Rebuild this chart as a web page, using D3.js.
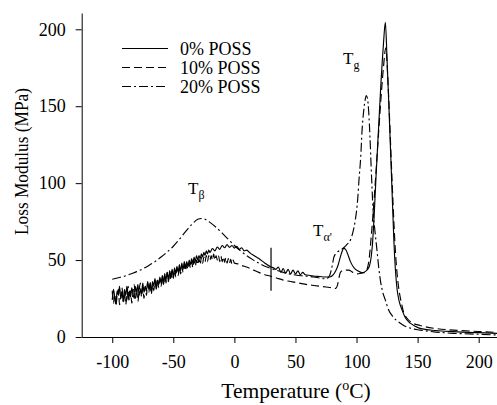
<!DOCTYPE html>
<html>
<head>
<meta charset="utf-8">
<script src="https://cdn.jsdelivr.net/npm/d3@7"></script>
<style>
  body { margin: 0; background: #fff; }
  svg text { font-family: "Liberation Serif", "Times New Roman", serif; fill: #000; }
</style>
</head>
<body>
<div id="chart"></div>
<script>
// series names shown in the legend
const seriesNames = ["0% POSS", "10% POSS", "20% POSS"]

// 0% POSS, [temperature C, loss modulus MPa], noisy at low temperature
const poss0 = [
  [-100,24],[-99,31],[-98,26],[-97,22],[-96,30],[-95,27],[-94,33],[-93,25],[-92,29],[-91,23],
  [-90,31],[-89,27],[-88,33],[-87,24],[-86,30],[-85,26],[-84,32],[-83,28],[-82,25],[-81,33],
  [-80,29],[-79,34],[-78,27],[-77,31],[-76,28],[-75,35],[-74,29],[-73,33],[-72,30],[-71,36],
  [-70,31],[-69,35],[-68,29],[-67,36],[-66,33],[-65,38],[-64,31],[-63,37],[-62,34],[-61,39],
  [-60,35],[-59,40],[-58,34],[-57,41],[-56,37],[-55,42],[-54,36],[-53,43],[-52,39],[-51,44],
  [-50,39],[-49,45],[-48,41],[-47,46],[-46,42],[-45,47],[-44,43],[-43,48],[-42,44],[-41,49],
  [-40,45],[-39,49],[-38,46],[-37,50],[-36,47],[-35,51],[-34,48],[-33,52],[-32,49],[-31,53],
  [-30,50],[-29,53],[-28,51],[-27,54],[-26,52],[-25,55],[-24,53],[-23,56],[-22,54],[-21,56.5],
  [-20,55],[-18,57.5],[-16,56],[-14,58.5],[-12,57],[-10,59.5],[-8,58],[-6,60],[-4,58.3],[-2,59.5],
  [0,57.8],[2,59],[4,57],[6,58],[8,56],[10,56.5],[13,54.5],[16,53],[20,51],[25,48],
  [30,45.5],[32,45],[34,44],[36,45.5],[38,42],[40,44.5],[42,41.5],[44,44],[46,41],[48,43.5],
  [50,41],[52,43],[54,40.5],[56,42],[58,40.5],[62,40],[66,39.5],[70,39.3],[74,39],[78,39],
  [81,40.5],[83,43],[85,47],[87.5,54],[89.5,57.6],[91,57],[92.5,54.5],[95,49],[98,45],[101,43],
  [104.5,41.8],[107,42.5],[109,44],[110.5,46],[112,52],[113,60],[114.5,80],[116,105],[118,135],[120,165],
  [122,190],[123.6,204.5],[125,180],[126.5,150],[128,118],[129.3,90],[130.5,64],[131.8,44],[133.2,31],[135,23],
  [137.3,17.5],[140,12.5],[144,9],[148,7],[152,5.6],[165,4.2],[179,3.5],[200,2.8],[215,2.4]
]

// 10% POSS
const poss10 = [
  [-100,30],[-99,22],[-98,28],[-97,20],[-96,27],[-95,31],[-94,21],[-93,26],[-92,32],[-91,23],
  [-90,29],[-89,21],[-88,27],[-87,33],[-86,24],[-85,30],[-84,22],[-83,29],[-82,34],[-81,25],
  [-80,31],[-79,23],[-78,30],[-77,35],[-76,26],[-75,32],[-74,25],[-73,33],[-72,27],[-71,35],
  [-70,29],[-69,36],[-68,28],[-67,34],[-66,30],[-65,37],[-64,31],[-63,38],[-62,32],[-61,38],
  [-60,33],[-59,40],[-58,34],[-57,41],[-56,35],[-55,42],[-54,36],[-53,43],[-52,37],[-51,43],
  [-50,38],[-49,44],[-48,39],[-47,45],[-46,40],[-45,46],[-44,41],[-43,46],[-42,42],[-41,47],
  [-40,43],[-39,47],[-38,44],[-37,48],[-36,45],[-35,49],[-34,45],[-33,50],[-32,46],[-31,50],
  [-30,47],[-29,51],[-28,47],[-27,52],[-26,48],[-25,52],[-24,49],[-23,53],[-22,49],[-21,53],
  [-20,50],[-19,53],[-18,50],[-17,54],[-16,50],[-15,53],[-14,50],[-13,53],[-12,49],[-11,52.5],
  [-10,49],[-9,52],[-8,48.5],[-7,51.5],[-6,48],[-5,51],[-4,48],[-3,50.5],[-2,47.5],[-1,50],
  [0,48],[3,47.5],[6,46.5],[10,45.5],[15,43.8],[20,42],[25,40.5],[30,39.5],[35,38.2],[40,37],
  [45,36.2],[50,35.5],[55,34.7],[60,34],[65,33.5],[70,33],[75,32.5],[80,32],[83,31.6],[84.5,34],
  [85.5,38],[86.8,42],[90,43.5],[93.6,43.5],[97,42],[100.5,41],[104,41.5],[107,42],[109,45],[110.5,52],
  [112,65],[114,85],[116,108],[118,132],[120,155],[122,175],[124,188],[125.5,170],[127,143],[128.5,113],
  [130,85],[131.5,60],[133,43],[134.5,32],[136.5,23],[138.6,16],[141,12.5],[145,9.5],[152,7.5],[165,5.5],
  [179,4.5],[200,3.6],[215,3]
]

// 20% POSS
const poss20 = [
  [-100,37.5],[-95,38.5],[-90,39.5],[-85,41],[-80,42.5],[-75,44.3],[-70,46.5],[-65,49],[-60,52],[-55,55.3],
  [-50,59],[-45,63.5],[-40,68.5],[-35,73],[-30,76.5],[-27,77],[-24,76.5],[-20,74.5],[-15,71.3],[-10,67.5],
  [-5,63.5],[0,59.5],[5,56],[10,53],[15,50.3],[20,48],[25,46],[30,44.5],[35,43.2],[40,42],
  [45,41],[50,40.3],[55,39.8],[60,39.5],[65,39],[70,38.3],[75,37.8],[78,40],[80,46],[81.5,52],
  [84,55],[87,56.5],[89.5,58],[92,60],[95,63],[97,68],[99,76],[101,90],[102,102],[103.5,118],
  [104.5,134],[106,148],[107,154],[108,157],[109,155],[110,146],[111,130],[112,110],[113.6,82],[115.2,68],
  [116.8,56],[118.2,45],[119.5,37],[121.5,29],[123.6,24],[126,18],[130,13],[134,10],[138,7.8],[145,5.5],
  [152,4.5],[165,3.2],[179,2.4],[200,1.8],[215,1.3]
]

// vertical marker drawn at 30 C
const markerTemp = 30
const markerRange = [30, 58]

const xTicks = [-100, -50, 0, 50, 100, 150, 200]
const yTicks = [0, 50, 100, 150, 200]

const W = 497, H = 405

const svg = d3.select("#chart").append("svg")
  .attr("width", W)
  .attr("height", H)

const x = d3.scaleLinear().domain([-125, 215]).range([81.7, 497])
const y = d3.scaleLinear().domain([0, 210.6]).range([337, 13])

// axes (plain hyphen for negatives, like the original)
svg.append("g")
  .attr("transform", "translate(0," + y(0) + ")")
  .call(d3.axisBottom(x).tickValues(xTicks).tickFormat(d => String(d))
    .tickSize(6).tickSizeOuter(0).tickPadding(12))
svg.append("g")
  .attr("transform", "translate(" + x(-125) + ",0)")
  .call(d3.axisLeft(y).tickValues(yTicks).tickFormat(d => String(d))
    .tickSize(6).tickSizeOuter(0).tickPadding(10))

svg.selectAll(".domain, .tick line").attr("stroke", "#000").attr("stroke-width", 1)
svg.selectAll(".tick text")
  .style("font-family", "'Liberation Serif', serif")
  .style("font-size", "18px")
  .attr("fill", "#000")

// axis titles
const xt = svg.append("text")
  .attr("x", 296)
  .attr("y", 398)
  .attr("text-anchor", "middle")
  .style("font-size", "21.5px")
xt.append("tspan").text("Temperature (")
xt.append("tspan").text("o").style("font-size", "14px").attr("dy", -8)
xt.append("tspan").text("C)").attr("dy", 8)

svg.append("text")
  .attr("transform", "translate(28,161.5) rotate(-90)")
  .attr("text-anchor", "middle")
  .attr("textLength", 147)
  .attr("lengthAdjust", "spacingAndGlyphs")
  .style("font-size", "19.5px")
  .text("Loss Modulus (MPa)")

// curves
const line = d3.line()
  .x(d => x(d[0]))
  .y(d => y(d[1]))
  .curve(d3.curveMonotoneX)

const dashes = [null, "8,4", "9,3,2,3"]
const allSeries = [poss0, poss10, poss20]

allSeries.forEach((s, i) => {
  svg.append("path")
    .datum(s)
    .attr("d", line)
    .attr("fill", "none")
    .attr("stroke", "#000")
    .attr("stroke-width", 1.15)
    .attr("stroke-dasharray", dashes[i])
})

svg.append("line")
  .attr("x1", x(markerTemp)).attr("x2", x(markerTemp))
  .attr("y1", y(markerRange[0])).attr("y2", y(markerRange[1]))
  .attr("stroke", "#000")
  .attr("stroke-width", 1.2)

// legend
seriesNames.forEach((name, i) => {
  const ly = 48.5 + i * 19
  svg.append("line")
    .attr("x1", 122).attr("x2", 168)
    .attr("y1", ly).attr("y2", ly)
    .attr("stroke", "#000")
    .attr("stroke-width", 1.1)
    .attr("stroke-dasharray", dashes[i])
  svg.append("text")
    .attr("x", 180)
    .attr("y", ly + 6)
    .style("font-size", "18px")
    .text(name)
})

// peak annotations
function annotate(t, e, sub) {
  const tx = svg.append("text")
    .attr("x", x(t))
    .attr("y", y(e))
    .style("font-size", "17px")
  tx.append("tspan").text("T")
  tx.append("tspan").text(sub).style("font-size", "12px").attr("dy", 5)
}
annotate(-37.9, 93, "\u03b2")
annotate(89, 177.5, "g")
annotate(64.4, 65.6, "\u03b1'")
</script>
</body>
</html>
